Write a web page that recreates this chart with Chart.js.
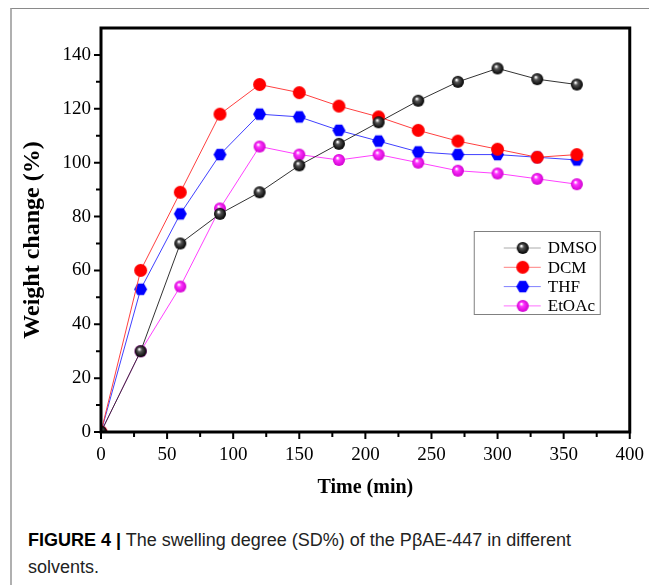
<!DOCTYPE html>
<html lang="en">
<head>
    <meta charset="UTF-8">
    <title>Swelling degree</title>
    <script src="https://cdn.jsdelivr.net/npm/chart.js"></script>
    <style>
        html, body {
            margin: 0;
            padding: 0;
            background: #ffffff;
        }
        .figure {
            position: relative;
            width: 649px;
            height: 585px;
            overflow: hidden;
        }
        .frame {
            position: absolute;
            left: 10px;
            top: 8px;
            width: 700px;
            height: 700px;
            border-left: 2px solid #b0b0b0;
            border-top: 1px solid #8a8a8a;
        }
        .chart-box {
            position: absolute;
            left: 0;
            top: 0;
            width: 649px;
            height: 510px;
        }
        .caption {
            position: absolute;
            left: 28px;
            top: 527px;
            width: 590px;
            font-family: "Liberation Sans", Arial, sans-serif;
            font-size: 18px;
            line-height: 27px;
            color: #222;
        }
        .caption b {
            color: #000;
        }
    </style>
</head>
<body>

<div class="figure">
    <div class="frame"></div>
    <div class="chart-box">
        <canvas id="swellChart" width="649" height="510"></canvas>
    </div>
    <div class="caption"><b>FIGURE 4 |</b> The swelling degree (SD%) of the PβAE-447 in different solvents.</div>
</div>

<script>
    // Time points (min) and weight change (%) for each solvent
    const times = [0, 30, 60, 90, 120, 150, 180, 210, 240, 270, 300, 330, 360];
    const dmso  = [0, 30, 70, 81, 89, 99, 107, 115, 123, 130, 135, 131, 129];
    const dcm   = [0, 60, 89, 118, 129, 126, 121, 117, 112, 108, 105, 102, 103];
    const thf   = [0, 53, 81, 103, 118, 117, 112, 108, 104, 103, 103, 102, 101];
    const etoac = [0, 30, 54, 83, 106, 103, 101, 103, 100, 97, 96, 94, 92];

    const seriesNames = ['DMSO', 'DCM', 'THF', 'EtOAc'];
    const xTicks = [0, 50, 100, 150, 200, 250, 300, 350, 400];
    const yTicks = [0, 20, 40, 60, 80, 100, 120, 140];
    const yTitle = 'Weight change (%)';

    const serif = '"Liberation Serif", "Times New Roman", serif';

    // marker pictures
    function sphere(base, dark, r) {
        const c = document.createElement('canvas');
        c.width = c.height = r * 2 + 2;
        const g = c.getContext('2d');
        const cx = r + 1, cy = r + 1;
        const grad = g.createRadialGradient(cx - r * 0.25, cy - r * 0.35, 0.5, cx, cy, r);
        grad.addColorStop(0, '#ffffff');
        grad.addColorStop(0.3, base);
        grad.addColorStop(1, dark);
        g.fillStyle = grad;
        g.beginPath();
        g.arc(cx, cy, r, 0, Math.PI * 2);
        g.fill();
        return c;
    }
    function disc(color, r) {
        const c = document.createElement('canvas');
        c.width = c.height = r * 2 + 2;
        const g = c.getContext('2d');
        g.fillStyle = color;
        g.beginPath();
        g.arc(r + 1, r + 1, r, 0, Math.PI * 2);
        g.fill();
        return c;
    }
    function hexagon(color, r) {
        const c = document.createElement('canvas');
        c.width = c.height = r * 2 + 2;
        const g = c.getContext('2d');
        g.fillStyle = color;
        g.beginPath();
        for (let i = 0; i < 6; i++) {
            const a = i * Math.PI / 3;
            const px = r + 1 + r * Math.cos(a);
            const py = r + 1 + r * Math.sin(a);
            if (i === 0) g.moveTo(px, py); else g.lineTo(px, py);
        }
        g.closePath();
        g.fill();
        return c;
    }

    const markers = [
        sphere('#555555', '#000000', 6),
        disc('#ff0000', 6.5),
        hexagon('#0000ff', 6.5),
        sphere('#ff33ff', '#d000d0', 6)
    ];
    const lineColors = ['#333333', '#ff4040', '#4040ff', '#ff40ff'];
    const legendLine = ['#aaaaaa', '#ff8080', '#8080ff', '#ff70ff'];
    const values = [dmso, dcm, thf, etoac];

    // box, ticks, y title and legend drawn on top of the data
    const frameAndLegend = {
        id: 'frameAndLegend',
        afterDatasetsDraw(chart) {
            const ctx = chart.ctx;
            const a = chart.chartArea;
            const xs = chart.scales.x, ys = chart.scales.y;
            ctx.save();
            ctx.strokeStyle = '#000';
            ctx.lineWidth = 3;
            ctx.strokeRect(a.left, a.top, a.right - a.left, a.bottom - a.top);

            ctx.lineWidth = 2;
            ctx.beginPath();
            for (let v = 0; v <= 400; v += 25) {
                const px = xs.getPixelForValue(v);
                const len = v % 50 === 0 ? 7 : 5;
                ctx.moveTo(px, a.bottom);
                ctx.lineTo(px, a.bottom + len);
            }
            for (let v = 0; v <= 140; v += 10) {
                const py = ys.getPixelForValue(v);
                const len = v % 20 === 0 ? 7 : 5;
                ctx.moveTo(a.left, py);
                ctx.lineTo(a.left - len, py);
            }
            ctx.stroke();

            // y axis title, a little below the middle like the original
            ctx.save();
            ctx.translate(33, (a.top + a.bottom) / 2 + 10);
            ctx.rotate(-Math.PI / 2);
            ctx.font = 'bold 24px ' + serif;
            ctx.textAlign = 'center';
            ctx.textBaseline = 'middle';
            ctx.fillStyle = '#000';
            ctx.fillText(yTitle, 0, 0);
            ctx.restore();

            // legend
            const bx = a.right - 156, by = a.top + 203, bw = 126, bh = 83;
            ctx.lineWidth = 1;
            ctx.strokeStyle = '#808080';
            ctx.strokeRect(bx + 0.5, by + 0.5, bw, bh);
            ctx.font = '17px ' + serif;
            ctx.textBaseline = 'middle';
            ctx.fillStyle = '#000';
            seriesNames.forEach((name, i) => {
                const ly = by + 17 + i * 19.3;
                ctx.strokeStyle = legendLine[i];
                ctx.beginPath();
                ctx.moveTo(bx + 30, ly);
                ctx.lineTo(bx + 67, ly);
                ctx.stroke();
                const m = markers[i];
                ctx.drawImage(m, bx + 49 - m.width / 2, ly - m.height / 2);
                ctx.fillText(name, bx + 74, ly + 1);
            });
            ctx.restore();
        }
    };

    const ctx = document.getElementById('swellChart').getContext('2d');
    new Chart(ctx, {
        type: 'line',
        data: {
            labels: times,
            datasets: seriesNames.map((name, i) => ({
                label: name,
                data: times.map((t, k) => ({ x: t, y: values[i][k] })),
                borderColor: lineColors[i],
                backgroundColor: lineColors[i],
                borderWidth: 1,
                pointStyle: markers[i],
                tension: 0,
                clip: 0
            }))
        },
        options: {
            responsive: false,
            animation: false,
            events: [],
            layout: { padding: { top: 28, right: 16, left: 0, bottom: 0 } },
            plugins: {
                legend: { display: false },
                tooltip: { enabled: false }
            },
            scales: {
                x: {
                    type: 'linear',
                    min: 0,
                    max: 400,
                    afterBuildTicks: s => { s.ticks = xTicks.map(v => ({ value: v })); },
                    afterFit: s => { s.height = 78; },
                    grid: { display: false, drawTicks: true, tickLength: 7 },
                    border: { display: false },
                    ticks: {
                        color: '#000',
                        padding: 5,
                        maxRotation: 0,
                        font: { family: serif, size: 19 }
                    },
                    title: {
                        display: true,
                        text: 'Time (min)',
                        color: '#000',
                        padding: { top: 0, bottom: 10 },
                        font: { family: serif, size: 20, weight: 'bold' }
                    }
                },
                y: {
                    min: 0,
                    max: 150,
                    afterBuildTicks: s => { s.ticks = yTicks.map(v => ({ value: v })); },
                    afterFit: s => { s.width = 101; },
                    grid: { display: false, drawTicks: true, tickLength: 7 },
                    border: { display: false },
                    ticks: {
                        color: '#000',
                        padding: 3,
                        font: { family: serif, size: 19 }
                    },
                    title: { display: false }
                }
            }
        },
        plugins: [frameAndLegend]
    });
</script>

</body>
</html>
